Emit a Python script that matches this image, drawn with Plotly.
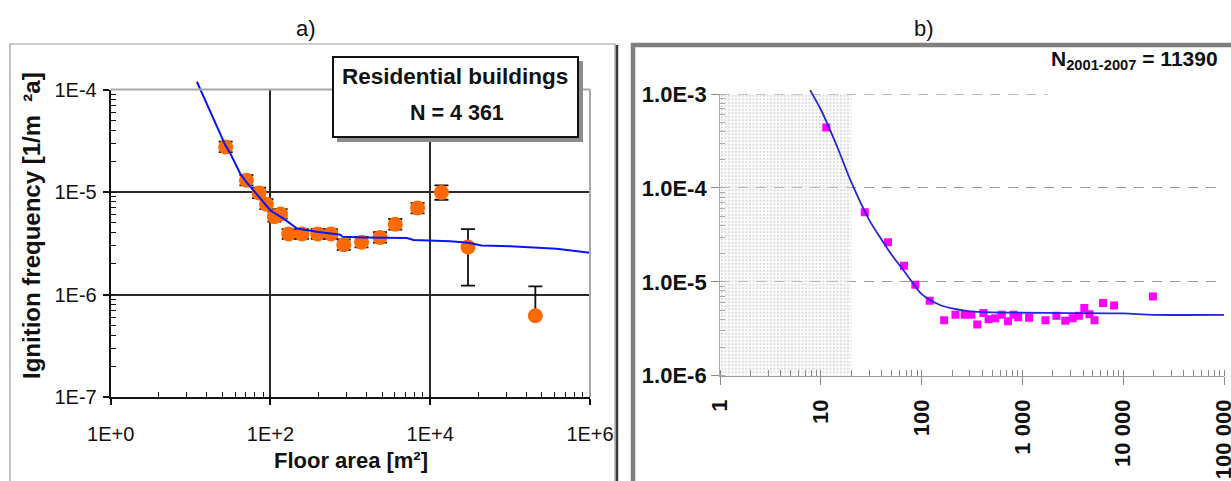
import plotly.graph_objects as go

W, H = 1231, 481

# ---------------- data: panel a ----------------
a_area = [27.5, 50, 72, 89, 112, 134, 169, 248, 390, 572, 827, 1380, 2350, 3650, 6940, 13800, 29700, 207000]
a_freq = [2.75e-5, 1.3e-5, 9.8e-6, 7.6e-6, 5.75e-6, 6.1e-6, 3.9e-6, 3.9e-6, 3.9e-6, 3.9e-6,
          3.06e-6, 3.24e-6, 3.6e-6, 4.85e-6, 7.0e-6, 9.9e-6, 2.91e-6, 6.2e-7]
a_err_plus = [3.5e-6, 1.6e-6, 1.2e-6, 9e-7, 7e-7, 7e-7, 4.5e-7, 4.5e-7, 4.5e-7, 4.5e-7,
              3.8e-7, 4e-7, 4.5e-7, 6e-7, 8.5e-7, 1.7e-6, 1.44e-6, 5.8e-7]
a_err_minus = [3e-6, 1.4e-6, 1.1e-6, 8e-7, 6e-7, 6e-7, 4e-7, 4e-7, 4e-7, 4e-7,
               3.4e-7, 3.6e-7, 4e-7, 5.5e-7, 8e-7, 1.5e-6, 1.69e-6, 0]
a_fit_x = [12, 19.6, 27, 31.6, 42, 50, 75, 100, 146, 215, 382, 750, 800, 1470, 5100, 6200,
           17800, 30000, 44000, 100000, 380000, 1000000]
a_fit_y = [1.19e-4, 5.1e-5, 2.9e-5, 2.36e-5, 1.5e-5, 1.25e-5, 8.6e-6, 6.6e-6, 5.5e-6, 4.4e-6,
           4.1e-6, 3.83e-6, 3.65e-6, 3.6e-6, 3.56e-6, 3.4e-6, 3.3e-6, 3.2e-6, 3.0e-6, 2.95e-6,
           2.8e-6, 2.55e-6]
a_xtick_vals = [1, 100, 1e4, 1e6]
a_xtick_text = ["1E+0", "1E+2", "1E+4", "1E+6"]
a_ytick_vals = [1e-7, 1e-6, 1e-5, 1e-4]
a_ytick_text = ["1E-7", "1E-6", "1E-5", "1E-4"]

# ---------------- data: panel b ----------------
b_area = [11.3, 27.2, 46.3, 66.7, 86.4, 120, 167, 216, 267, 311, 356, 410, 461, 536, 623, 719,
          815, 906, 1162, 1690, 2170, 2660, 3150, 3630, 4110, 4620, 5190, 6300, 8110, 19700]
b_freq = [4.4e-4, 5.5e-5, 2.64e-5, 1.48e-5, 9.3e-6, 6.3e-6, 3.9e-6, 4.45e-6, 4.45e-6, 4.45e-6,
          3.5e-6, 4.65e-6, 4.0e-6, 4.1e-6, 4.45e-6, 3.8e-6, 4.45e-6, 4.2e-6, 4.15e-6, 3.9e-6,
          4.35e-6, 3.85e-6, 4.1e-6, 4.35e-6, 5.25e-6, 4.5e-6, 3.9e-6, 5.93e-6, 5.6e-6, 6.98e-6]
b_fit_x = [7.8, 10, 12, 15, 20, 30, 40, 50, 70, 100, 150, 200, 300, 500, 1000, 3000, 10000,
           20000, 100000]
b_fit_y = [1.1e-3, 6.8e-4, 4.4e-4, 2.5e-4, 1.15e-4, 4.6e-5, 2.8e-5, 1.95e-5, 1.22e-5, 7.4e-6,
           5.7e-6, 5.2e-6, 4.85e-6, 4.72e-6, 4.68e-6, 4.65e-6, 4.6e-6, 4.45e-6, 4.45e-6]
b_shade_x = [1, 20]
b_xtick_vals = [1, 10, 100, 1000, 10000, 100000]
b_xtick_text = ["1", "10", "100", "1 000", "10 000", "100 000"]
b_ytick_vals = [1e-6, 1e-5, 1e-4, 1e-3]
b_ytick_text = ["1.0E-6", "1.0E-5", "1.0E-4", "1.0E-3"]

FONT = "Liberation Sans, Arial, sans-serif"


def px(x):
    return x / W


def py(y):
    return 1 - y / H


# plot-area pixel boxes
A = dict(x0=110.7, x1=590, y0=89.5, y1=397)
B = dict(x0=720.2, x1=1224, y0=94, y1=375.7)
EXTRA = 10  # px the fitted curves may extend above the plot area

fig = go.Figure()

# --- panel a ---
fig.add_trace(go.Scatter(
    x=a_fit_x, y=a_fit_y, mode="lines", xaxis="x3", yaxis="y3",
    line=dict(color="#0a14ff", width=2), showlegend=False, hoverinfo="skip"))
fig.add_trace(go.Scatter(
    x=a_area, y=a_freq, mode="markers", xaxis="x", yaxis="y",
    marker=dict(color="#ff6a00", size=15, symbol="circle"),
    error_y=dict(type="data", symmetric=False, array=a_err_plus, arrayminus=a_err_minus,
                 color="#111111", thickness=1.8, width=7),
    showlegend=False))

# --- panel b ---
fig.add_trace(go.Scatter(
    x=[b_shade_x[0], b_shade_x[1], b_shade_x[1], b_shade_x[0], b_shade_x[0]],
    y=[b_ytick_vals[0], b_ytick_vals[0], b_ytick_vals[-1], b_ytick_vals[-1], b_ytick_vals[0]],
    mode="lines", fill="toself", xaxis="x2", yaxis="y2",
    line=dict(width=0, color="rgba(0,0,0,0)"),
    fillcolor="rgba(0,0,0,0)",
    fillpattern=dict(shape=".", fgcolor="#cdcdcd", bgcolor="rgba(240,240,240,0.25)",
                     size=3.5, solidity=0.2),
    showlegend=False, hoverinfo="skip"))
fig.add_trace(go.Scatter(
    x=b_area, y=b_freq, mode="markers", xaxis="x2", yaxis="y2",
    marker=dict(color="#ff00ff", size=8, symbol="square"),
    showlegend=False))
fig.add_trace(go.Scatter(
    x=b_fit_x, y=b_fit_y, mode="lines", xaxis="x4", yaxis="y4",
    line=dict(color="#2626d9", width=1.8, shape="spline", smoothing=0.8),
    showlegend=False, hoverinfo="skip"))

tickfont_a = dict(family=FONT, size=20, color="#111")
tickfont_b = dict(family=FONT, size=22, color="#111", weight="bold")

a_minor_x = [k * k * 100 ** n for n in range(3) for k in range(2, 10)]

a_dom_x = [px(A["x0"]), px(A["x1"])]
a_dom_y = [py(A["y1"]), py(A["y0"])]
b_dom_x = [px(B["x0"]), px(B["x1"])]
b_dom_y = [py(B["y1"]), py(B["y0"])]

a_dec = (A["y1"] - A["y0"]) / 3.0
b_dec = (B["y1"] - B["y0"]) / 3.0

fig.update_layout(
    template="none",
    width=W, height=H, margin=dict(l=0, r=0, t=0, b=0, autoexpand=False),
    paper_bgcolor="white", plot_bgcolor="rgba(0,0,0,0)",
    font=dict(family=FONT, color="#111"),
    xaxis=dict(type="log", domain=a_dom_x, range=[0, 6], anchor="y", automargin=False,
               tickmode="array", tickvals=a_xtick_vals, ticktext=a_xtick_text,
               tickfont=tickfont_a, ticks="outside", ticklen=6, tickwidth=1.5, tickcolor="#111",
               ticklabelstandoff=12, ticklabeloverflow="allow",
               showline=True, linecolor="#111", linewidth=2,
               showgrid=True, gridcolor="#2a2a2a", gridwidth=1.5, zeroline=False,
               minor=dict(tickmode="array", tickvals=a_minor_x, ticks="inside", ticklen=5,
                          tickcolor="#111", tickwidth=1.2, showgrid=False)),
    yaxis=dict(type="log", domain=a_dom_y, range=[-7, -4], anchor="x", automargin=False,
               tickmode="array", tickvals=a_ytick_vals, ticktext=a_ytick_text,
               tickfont=tickfont_a, ticks="outside", ticklen=6, tickwidth=1.5, tickcolor="#111",
               ticklabelstandoff=2,
               showline=True, linecolor="#111", linewidth=2,
               showgrid=True, gridcolor="#2a2a2a", gridwidth=1.5, zeroline=False,
               minor=dict(dtick="D1", ticks="inside", ticklen=5, tickcolor="#111",
                          tickwidth=1, showgrid=False)),
    xaxis3=dict(type="log", domain=a_dom_x, range=[0, 6], anchor="y3", visible=False,
                automargin=False),
    yaxis3=dict(type="log", domain=[a_dom_y[0], a_dom_y[1] + EXTRA / H],
                range=[-7, -4 + EXTRA / a_dec], anchor="x3", visible=False, automargin=False),
    xaxis2=dict(type="log", domain=b_dom_x, range=[0, 5], anchor="y2", automargin=False,
                tickmode="array", tickvals=b_xtick_vals, ticktext=b_xtick_text,
                tickfont=tickfont_b, tickangle=-90, ticks="outside", ticklen=8,
                tickcolor="#888", tickwidth=1, ticklabeloverflow="allow", ticklabelstandoff=6,
                showline=True, linecolor="#999", linewidth=1.2, showgrid=False, zeroline=False,
                minor=dict(dtick="D1", ticks="inside", ticklen=6, tickcolor="#888",
                           tickwidth=1, showgrid=False)),
    yaxis2=dict(type="log", domain=b_dom_y, range=[-6, -3], anchor="x2", automargin=False,
                tickmode="array", tickvals=b_ytick_vals, ticktext=b_ytick_text,
                tickfont=tickfont_b, ticks="outside", ticklen=8, tickcolor="#888", tickwidth=1,
                showline=True, linecolor="#aaa", linewidth=1.2,
                showgrid=True, gridcolor="#9a9a9a", gridwidth=1.3, griddash="10px,8px",
                zeroline=False,
                minor=dict(dtick="D1", ticks="inside", ticklen=5, tickcolor="#aaa",
                           tickwidth=1, showgrid=False)),
    xaxis4=dict(type="log", domain=b_dom_x, range=[0, 5], anchor="y4", visible=False,
                automargin=False),
    yaxis4=dict(type="log", domain=[b_dom_y[0], b_dom_y[1] + EXTRA / H],
                range=[-6, -3 + EXTRA / b_dec], anchor="x4", visible=False, automargin=False),
)

shapes = []
# panel a frame with dark right shadow
shapes.append(dict(type="rect", xref="paper", yref="paper", x0=px(10), x1=px(615),
                   y0=py(490), y1=py(44), line=dict(color="#9a9a9a", width=1.2), layer="below"))
shapes.append(dict(type="line", xref="paper", yref="paper", x0=px(617), x1=px(617),
                   y0=py(490), y1=py(45), line=dict(color="#3a3a3a", width=2.5), layer="below"))
# panel a top / right plot-area border (gray)
shapes.append(dict(type="line", xref="x domain", yref="y domain", x0=0, x1=1, y0=1, y1=1,
                   line=dict(color="#a8a8a8", width=2), layer="above"))
shapes.append(dict(type="line", xref="x domain", yref="y domain", x0=1, x1=1, y0=0, y1=1,
                   line=dict(color="#a8a8a8", width=2), layer="above"))
# panel b: top dashed gridline (1.0E-3), partial as in the original
shapes.append(dict(type="line", xref="x2 domain", yref="y2", x0=0, x1=0.65,
                   y0=b_ytick_vals[-1], y1=b_ytick_vals[-1],
                   line=dict(color="#a0a0a0", width=1.3, dash="10px,8px"), layer="below"))
# annotation box (shadow + box)
shapes.append(dict(type="rect", xref="paper", yref="paper", x0=px(337), x1=px(583),
                   y0=py(142), y1=py(61), fillcolor="#8c8c8c", line=dict(width=0), layer="above"))
shapes.append(dict(type="rect", xref="paper", yref="paper", x0=px(333), x1=px(578),
                   y0=py(137), y1=py(57), fillcolor="white",
                   line=dict(color="#111", width=2), layer="above"))
# panel b frame
shapes.append(dict(type="rect", xref="paper", yref="paper", x0=px(633), x1=px(1240),
                   y0=py(495), y1=py(45), line=dict(color="#7f7f7f", width=4.5), layer="below"))
fig.update_layout(shapes=shapes)


def note(text, x, y, size, bold=False, angle=0, xanchor="center"):
    f = dict(family=FONT, size=size, color="#111")
    if bold:
        f["weight"] = "bold"
    return dict(text=text, x=px(x), y=py(y), xref="paper", yref="paper", showarrow=False,
                xanchor=xanchor, yanchor="middle", textangle=angle, font=f)


ann = [
    note("a)", 306, 29, 22),
    note("b)", 924, 29, 22),
    note("Residential buildings", 455, 77, 22.5, bold=True),
    note("N = 4 361", 457, 113, 21.5, bold=True),
    note("Ignition frequency [1/m  ²a]", 31, 226, 24, bold=True, angle=-90),
    note("Floor area [m²]", 351, 460, 22, bold=True),
    note("N<sub>2001-2007</sub> = 11390", 1220, 60, 21, bold=True, xanchor="right"),
]
fig.update_layout(annotations=ann)

fig.write_html("out.html")
